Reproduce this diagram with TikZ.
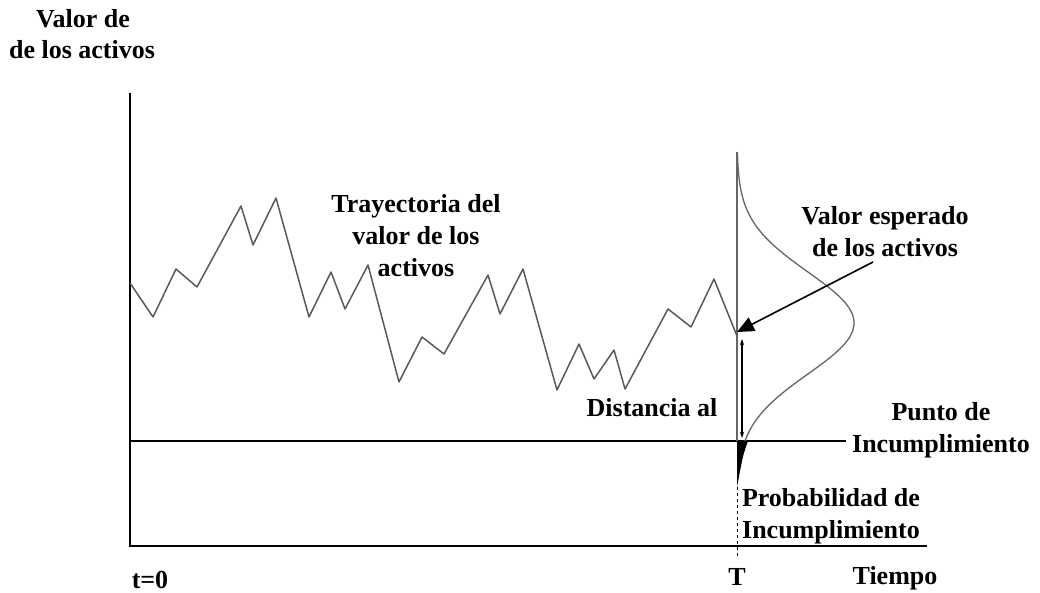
\documentclass[tikz,border=0pt]{standalone}
\usepackage{fontspec}
\setmainfont{Liberation Serif}
\usetikzlibrary{arrows.meta}
\begin{document}
\begin{tikzpicture}[x=1pt,y=-1pt,
  lbl/.style={font=\bfseries\fontsize{26}{32}\selectfont, align=center, inner sep=0pt},
  axisline/.style={line width=2pt, black},
  pathline/.style={line width=1.5pt, black!65, line join=round},
  thin gray/.style={line width=1.3pt, black!60}]
\useasboundingbox (0,0) rectangle (1040,593);
% coordinates
\coordinate (ytop) at (130,93);
\coordinate (orig) at (130,546);
\coordinate (xend) at (927,546);
\coordinate (dl) at (130,441);
\coordinate (dr) at (846,441);
\coordinate (Ttop) at (737,152);
\coordinate (Tdef) at (737,441);
\coordinate (Tw) at (748,441);
\coordinate (Ttip) at (737,487);
\coordinate (Tbot) at (737,556);
\coordinate (exp) at (737,332);
% axes
\draw[axisline] (ytop) -- (orig) -- (xend);
\draw[axisline] (dl) -- (dr);
% vertical at T
\draw[thin gray] (Ttop) -- (Tdef);
\draw[line width=1pt, dash pattern=on 3pt off 3pt] (Ttip) -- (Tbot);
% path
\draw[pathline] (130,283) -- (153,317) -- (176,269) -- (197,287) -- (241,206) -- (253,245)
  -- (276,198) -- (309,317) -- (331,272) -- (345,309) -- (368,265) -- (399,382)
  -- (422,337) -- (444,354) -- (488,275) -- (500,314) -- (523,269) -- (557,390)
  -- (579,344) -- (594,379) -- (614,350) -- (625,389) -- (668,309) -- (691,327)
  -- (714,279) -- (737,336);
% distribution
\draw[thin gray, domain=152:441, samples=120, smooth]
  plot ({737+117*exp(-(((\x-323)/10)^2)/51.95)}, \x);
\fill[black] (Tdef) -- (Tw) .. controls (743,455) .. (Ttip) -- cycle;
% labels
\node[lbl] (yl1) at (83,19) {Valor de};
\node[lbl] (yl2) at (82,50) {de los activos};
\node[lbl] (traj) at (416,236) {Trayectoria del\\valor de los\\activos};
\node[lbl] (ve) at (885,232) {Valor esperado\\de los activos};
\node[lbl] (dist) at (652,408) {Distancia al};
\node[lbl] (pd) at (941,430) {Punto de\\Incumplimiento};
\node[lbl] (prob) at (831,516) {Probabilidad de\\Incumplimiento};
\node[lbl] (t0) at (150,580) {t=0};
\node[lbl] (T) at (737,577) {T};
\node[lbl] (tiempo) at (895,578) {Tiempo};
% arrows
\coordinate (arrS) at (873,262);
\draw[line width=1.6pt, -{Triangle[length=17pt,width=15pt]}] (arrS) -- (exp);
\coordinate (dA) at (742,339);
\coordinate (dB) at (742,438);
\draw[line width=1.5pt, {Stealth[length=6pt,width=4pt]}-{Stealth[length=6pt,width=4pt]}] (dA) -- (dB);
\end{tikzpicture}
\end{document}
